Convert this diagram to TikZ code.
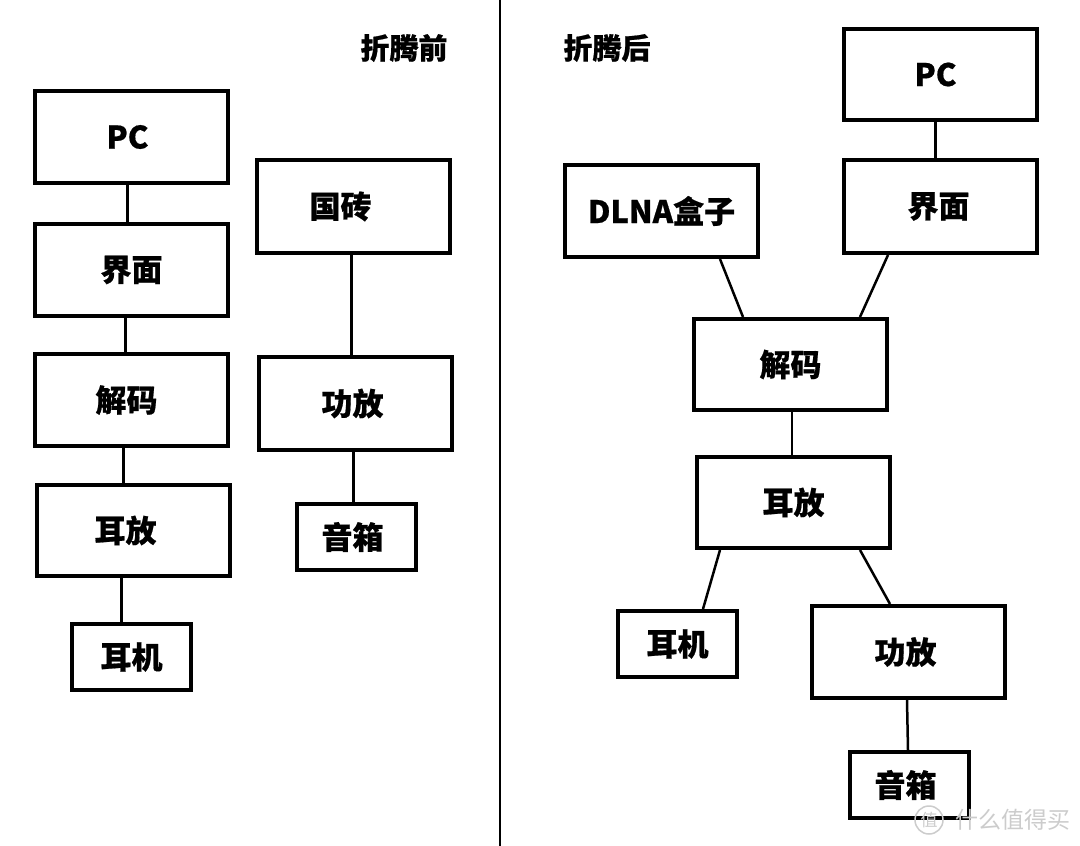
\documentclass[tikz,border=0pt]{standalone}
\usepackage{fontspec}
\newfontfamily\cjk{Noto Sans CJK SC}[BoldFeatures={FakeBold=0.6}]
\newfontfamily\cjkw{Noto Sans CJK SC}
\tikzset{
  box/.style={draw=black, line width=4pt, rectangle, inner sep=0pt, minimum width=193pt, minimum height=92pt, font=\cjk\bfseries\fontsize{31}{33}\selectfont, fill=white},
  smallbox/.style={box, minimum width=119pt, minimum height=66pt},
  link/.style={line width=2.5pt, black},
  title/.style={font=\cjk\bfseries\fontsize{29}{31}\selectfont, inner sep=0pt},
  wm/.style={text=black!20, font=\cjkw\fontsize{23}{25}\selectfont, inner sep=0pt}
}
\begin{document}
\begin{tikzpicture}[x=1pt,y=-1pt]
\useasboundingbox[fill=white] (0,0) rectangle (1080,846);
% divider
\coordinate (dtop) at (500,0);
\coordinate (dbot) at (500,846);
\draw[line width=2pt] (dtop) -- (dbot);
% titles
\node[title] (tb) at (404,48) {折腾前};
\node[title] (ta) at (607,48) {折腾后};
% left column
\node[box] (pcL) at (131.5,137) {\hspace*{-8pt}PC};
\node[box] (jmL) at (131.5,270) {界面};
\node[box] (dcL) at (131.5,400) {\hspace*{-10pt}解码};
\node[box, minimum height=91pt] (efL) at (133.5,530.5) {\hspace*{-16pt}耳放};
\node[smallbox] (ejL) at (131.5,657) {耳机};
\draw[link] ([xshift=-4pt]pcL.south) -- ([xshift=-4pt]jmL.north);
\draw[link] ([xshift=-6pt]jmL.south) -- ([xshift=-6pt]dcL.north);
\draw[link] ([xshift=-8pt]dcL.south) -- ([xshift=-10pt]efL.north);
\draw[link] ([xshift=-12pt]efL.south) -- ([xshift=-10pt]ejL.north);
% middle column
\node[box, minimum height=93pt] (gz) at (353.5,206.5) {\hspace*{-26pt}国砖};
\node[box, minimum height=93pt] (gfL) at (355.5,403.5) {\hspace*{-6pt}功放};
\node[smallbox] (yxL) at (356.5,537) {\hspace*{-8pt}音箱};
\draw[link] ([xshift=-2pt]gz.south) -- ([xshift=-4pt]gfL.north);
\draw[link] ([xshift=-2pt]gfL.south) -- ([xshift=-3pt]yxL.north);
% right side
\node[box, minimum height=91pt] (pcR) at (940.5,74.5) {\hspace*{-10pt}PC};
\node[box] (dlna) at (661.5,211) {DLNA盒子};
\node[box, minimum height=93pt] (jmR) at (940.5,206.5) {\hspace*{-4pt}界面};
\node[box, minimum height=91pt] (dcR) at (790.5,364.5) {解码};
\node[box, minimum height=91pt] (efR) at (793.5,502.5) {耳放};
\node[smallbox] (ejR) at (677.5,644) {耳机};
\node[box] (gfR) at (908.5,652) {\hspace*{-6pt}功放};
\node[smallbox] (yxR) at (909.5,785) {\hspace*{-8pt}音箱};
\draw[link] ([xshift=-5pt]pcR.south) -- ([xshift=-5pt]jmR.north);
\draw[link] ([xshift=58.5pt]dlna.south) -- ([xshift=-47.5pt]dcR.north);
\draw[link] ([xshift=-52.5pt]jmR.south) -- ([xshift=69.5pt]dcR.north);
\draw[link] ([xshift=1.5pt]dcR.south) -- ([xshift=-1.5pt]efR.north);
\draw[link] ([xshift=-73.5pt]efR.south) -- ([xshift=25.5pt]ejR.north);
\draw[link] ([xshift=66.5pt]efR.south) -- ([xshift=-18.5pt]gfR.north);
\draw[link] ([xshift=-1.5pt]gfR.south) -- ([xshift=-1.5pt]yxR.north);
% watermark
\node[draw=black!20, line width=1.5pt, circle, minimum size=28pt, inner sep=0pt, wm, font=\cjkw\fontsize{17}{18}\selectfont] (wmlogo) at (929,820) {值};
\node[wm, anchor=west] (wmtext) at (955,820) {什么值得买};
\end{tikzpicture}
\end{document}
